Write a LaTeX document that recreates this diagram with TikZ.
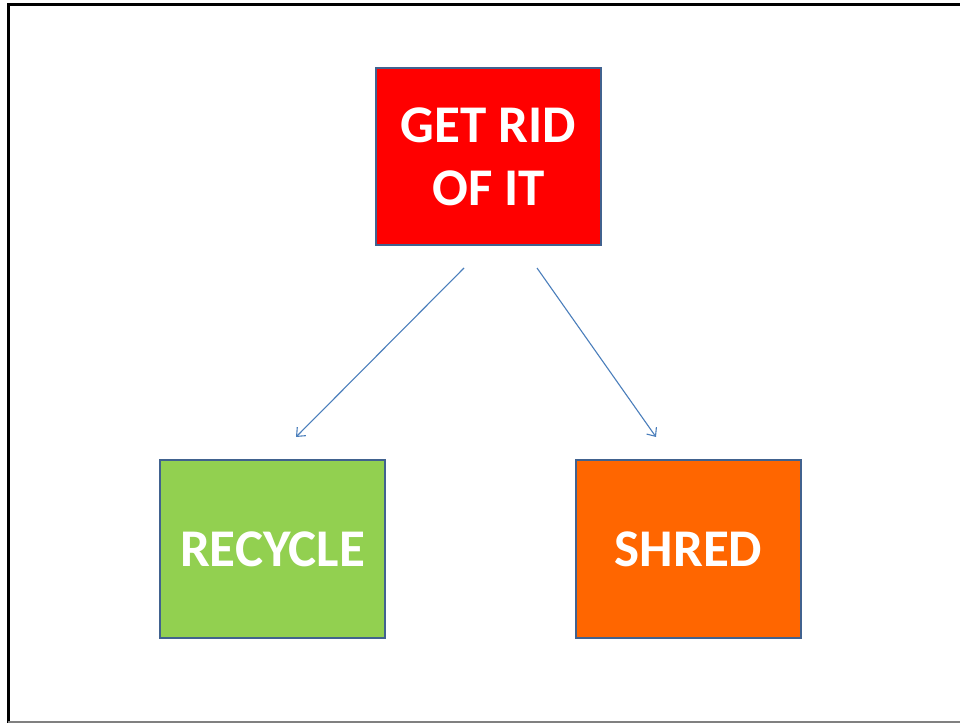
\documentclass[tikz,border=0pt]{standalone}
\usepackage{fontspec}
\setmainfont{Carlito}
\usetikzlibrary{arrows.meta}
\definecolor{boxline}{HTML}{41628F}
\definecolor{arrowc}{HTML}{4A7EBB}
\definecolor{redfill}{HTML}{FF0000}
\definecolor{greenfill}{HTML}{92D050}
\definecolor{orangefill}{HTML}{FF6600}
\tikzset{
  box/.style={draw=boxline, line width=2pt, minimum width=225pt, minimum height=177pt,
    inner sep=0pt, text=white, font=\fontsize{53}{63}\selectfont\bfseries, align=center},
  conn/.style={draw=arrowc, line width=1.1pt, -{Straight Barb[length=7pt,width=12pt]}}
}
\begin{document}
\begin{tikzpicture}[x=1pt,y=1pt]
\useasboundingbox (0,0) rectangle (960,723);
\fill[white] (0,0) rectangle (960,723);
% frame
\draw[line width=3pt, black] (8,0.5) -- (8,718) -- (960,718);
\draw[line width=1.5pt, gray] (8,1) -- (960,1);
% nodes
\node[box, fill=redfill] (top) at (488.5,566.5) {GET RID\\OF IT};
\node[box, fill=greenfill] (rec) at (272.5,174) {RECYCLE};
\node[box, fill=orangefill] (shr) at (688.5,174) {SHRED};
\coordinate (a1s) at (464,455);
\coordinate (a1e) at (296,286);
\coordinate (a2s) at (537,455);
\coordinate (a2e) at (656,286);
\draw[conn] (a1s) -- (a1e);
\draw[conn] (a2s) -- (a2e);
\end{tikzpicture}
\end{document}
